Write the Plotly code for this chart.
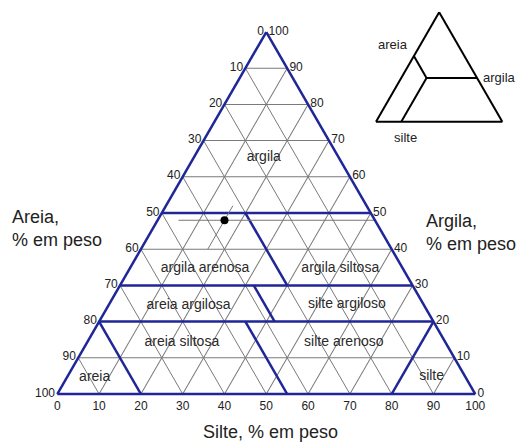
import plotly.graph_objects as go

# ---- data (ternary: a = argila/clay, b = areia/sand, c = silte/silt), % ----
tick_values = [0, 10, 20, 30, 40, 50, 60, 70, 80, 90, 100]
tick_labels = [str(100 - v) for v in tick_values]

# class boundaries: each segment = (start, end) for clay, sand, silt
boundary_clay = [[50, 50], [30, 30], [20, 20], [50, 30], [30, 20], [20, 0], [20, 0], [20, 0]]
boundary_sand = [[50, 0], [70, 0], [80, 0], [30, 30], [38, 38], [45, 45], [80, 80], [0, 20]]
boundary_silt = [[0, 50], [0, 70], [0, 80], [20, 40], [32, 42], [35, 55], [0, 20], [80, 80]]

region_names = ["argila", "argila arenosa", "argila siltosa", "areia argilosa",
                "silte argiloso", "areia siltosa", "silte arenoso", "areia", "silte"]
region_clay = [65.2, 34.7, 34.8, 24.4, 24.6, 14.2, 14.3, 4.5, 4.9]
region_sand = [18.0, 47.3, 14.9, 56.4, 18.4, 63.1, 24.3, 88.8, 8.0]
region_silt = [16.8, 18.0, 50.3, 19.2, 57.0, 22.7, 61.4, 6.7, 87.1]

# example sample point and its guide lines
sample_clay = [48]
sample_sand = [36]
sample_silt = [16]
guide_clay = [[48, 48], [40, 52]]
guide_sand = [[47, 0], [44, 32]]
guide_silt = [[5, 52], [16, 16]]

# inset schematic
inset_clay = [[60, 40], [40, 40], [40, 0]]
inset_sand = [[40, 40], [40, 0], [40, 80]]
inset_silt = [[0, 20], [20, 60], [20, 20]]

BLUE = "#1f2696"
FONT = "Liberation Sans, Arial, sans-serif"
W, H = 526, 444

fig = go.Figure()

for a, b, c in zip(boundary_clay, boundary_sand, boundary_silt):
    fig.add_trace(go.Scatterternary(a=a, b=b, c=c, mode="lines",
                                    line=dict(color=BLUE, width=2.5),
                                    hoverinfo="skip", showlegend=False))

for a, b, c in zip(guide_clay, guide_sand, guide_silt):
    fig.add_trace(go.Scatterternary(a=a, b=b, c=c, mode="lines",
                                    line=dict(color="#777777", width=1),
                                    hoverinfo="skip", showlegend=False))

fig.add_trace(go.Scatterternary(a=sample_clay, b=sample_sand, c=sample_silt, mode="markers",
                                marker=dict(color="black", size=8),
                                hoverinfo="skip", showlegend=False))

fig.add_trace(go.Scatterternary(a=region_clay, b=region_sand, c=region_silt, mode="text",
                                text=region_names,
                                textfont=dict(family=FONT, size=14, color="#2a2a2a"),
                                hoverinfo="skip", showlegend=False))

for a, b, c in zip(inset_clay, inset_sand, inset_silt):
    fig.add_trace(go.Scatterternary(a=a, b=b, c=c, mode="lines", subplot="ternary2",
                                    line=dict(color="black", width=2),
                                    hoverinfo="skip", showlegend=False))


def main_axis():
    return dict(min=0, tickmode="array", tickvals=tick_values, ticktext=tick_labels,
                ticks="", showline=True, linecolor=BLUE, linewidth=2.5,
                showgrid=True, gridcolor="#7a7a7a", gridwidth=1,
                tickfont=dict(family=FONT, size=12, color="#222222"), title=dict(text=""))


def inset_axis():
    return dict(min=0, showticklabels=False, ticks="", showline=True, linecolor="black",
                linewidth=2, showgrid=False, title=dict(text=""))


def px_ann(text, x, y, size, xanchor="center", align="center"):
    return dict(text=text, x=x / W, y=1 - y / H, xref="paper", yref="paper",
                showarrow=False, align=align, xanchor=xanchor, yanchor="middle",
                font=dict(family=FONT, size=size, color="#222222"))


fig.update_layout(
    width=W, height=H,
    margin=dict(l=0, r=0, t=0, b=0),
    paper_bgcolor="white",
    font=dict(family=FONT, color="#222222"),
    ternary=dict(sum=100, bgcolor="white",
                 domain=dict(x=[0.1089, 0.9036], y=[0.1126, 0.9279]),
                 aaxis=main_axis(), baxis=main_axis(), caxis=main_axis()),
    ternary2=dict(sum=100, bgcolor="white",
                  domain=dict(x=[0.7148, 0.955], y=[0.7259, 0.9723]),
                  aaxis=inset_axis(), baxis=inset_axis(), caxis=inset_axis()),
    annotations=[
        px_ann("Areia,<br>% em peso", 10, 228, 18, xanchor="left", align="left"),
        px_ann("Argila,<br>% em peso", 424, 232, 18, xanchor="left", align="left"),
        px_ann("Silte, % em peso", 270, 432, 18),
        px_ann("areia", 393, 45, 13),
        px_ann("argila", 499, 77, 13),
        px_ann("silte", 405, 137, 13),
    ],
)

fig.write_html("out.html",
               config={"displayModeBar": False, "staticPlot": True},
               post_script="document.body.style.margin='0';document.body.style.overflow='hidden';")
